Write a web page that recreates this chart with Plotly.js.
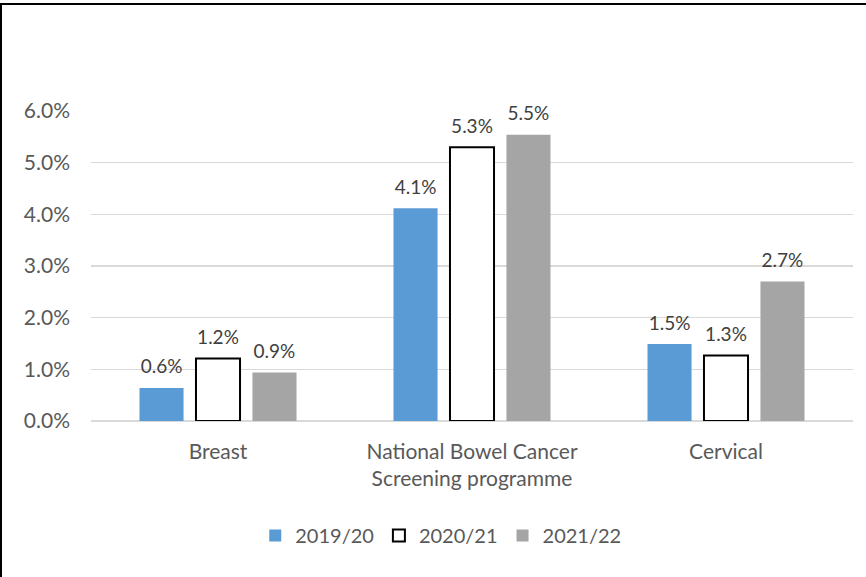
<!DOCTYPE html>
<html>
<head>
<meta charset="utf-8">
<script src="https://cdn.plot.ly/plotly-3.0.1.min.js"></script>
<style>
html,body{margin:0;padding:0;background:#fff;}
#chart{position:absolute;left:0;top:0;width:866px;height:577px;}
#frame{position:absolute;left:0;top:3px;width:880px;height:600px;border-left:2px solid #000;border-top:2px solid #000;pointer-events:none;}
</style>
</head>
<body>
<div id="chart"></div>
<div id="frame"></div>
<script>
const categories = ["Breast", "National Bowel Cancer<br>Screening programme", "Cervical"];
const seriesNames = ["2019/20", "2020/21", "2021/22"];
const values2019 = [0.0064, 0.0412, 0.0149];
const values2020 = [0.0121, 0.0530, 0.0127];
const values2021 = [0.0094, 0.0554, 0.0270];
const yTicks = [0, 0.01, 0.02, 0.03, 0.04, 0.05, 0.06];

const fontFam = "Lato, 'Open Sans', sans-serif";
const fills = ["#5b9bd5", "#ffffff", "#a5a5a5"];
const lines = [{color:"#5b9bd5", width:0}, {color:"#000000", width:2}, {color:"#a5a5a5", width:0}];
const allVals = [values2019, values2020, values2021];

const barTraces = allVals.map((v, i) => ({
  type: "bar",
  name: seriesNames[i],
  x: categories,
  y: v,
  offsetgroup: "g" + i,
  marker: {color: fills[i], line: lines[i]},
  hoverinfo: "skip"
}));

const labelTraces = allVals.map((v, i) => ({
  type: "scatter",
  mode: "markers+text",
  x: categories,
  y: v,
  offsetgroup: "g" + i,
  showlegend: false,
  marker: {size: 14, opacity: 0, color: "#ffffff"},
  texttemplate: "%{y:.1%}",
  textposition: "top center",
  textfont: {family: fontFam, size: 19, color: "#404040"},
  cliponaxis: false,
  hoverinfo: "skip"
}));

const layout = {
  width: 866, height: 577,
  margin: {l: 91, r: 13, t: 111, b: 156},
  paper_bgcolor: "#ffffff",
  plot_bgcolor: "#ffffff",
  barmode: "group",
  scattermode: "group",
  bargap: 0.333,
  scattergap: 0.333,
  bargroupgap: 0.22,
  font: {family: fontFam, size: 21, color: "#595959"},
  showlegend: true,
  legend: {
    orientation: "h",
    x: 0.459, xanchor: "center",
    y: -0.369, yanchor: "middle",
    font: {family: fontFam, size: 20, color: "#595959"},
    itemwidth: 30,
    traceorder: "normal"
  },
  xaxis: {
    showgrid: false,
    showline: false,
    ticks: "",
    tickfont: {family: fontFam, size: 21, color: "#595959"},
    ticklabelstandoff: 16,
    fixedrange: true
  },
  yaxis: {
    range: [0, 0.06],
    tickvals: yTicks,
    tickformat: ".1%",
    showgrid: true,
    gridcolor: "#d9d9d9",
    gridwidth: 1.5,
    zeroline: true,
    zerolinecolor: "#d9d9d9",
    zerolinewidth: 1.5,
    showline: false,
    ticks: "",
    tickfont: {family: fontFam, size: 21, color: "#595959"},
    ticklabelstandoff: 20,
    fixedrange: true
  }
};

Plotly.newPlot("chart", barTraces.concat(labelTraces), layout, {displayModeBar: false, staticPlot: true});
</script>
</body>
</html>
